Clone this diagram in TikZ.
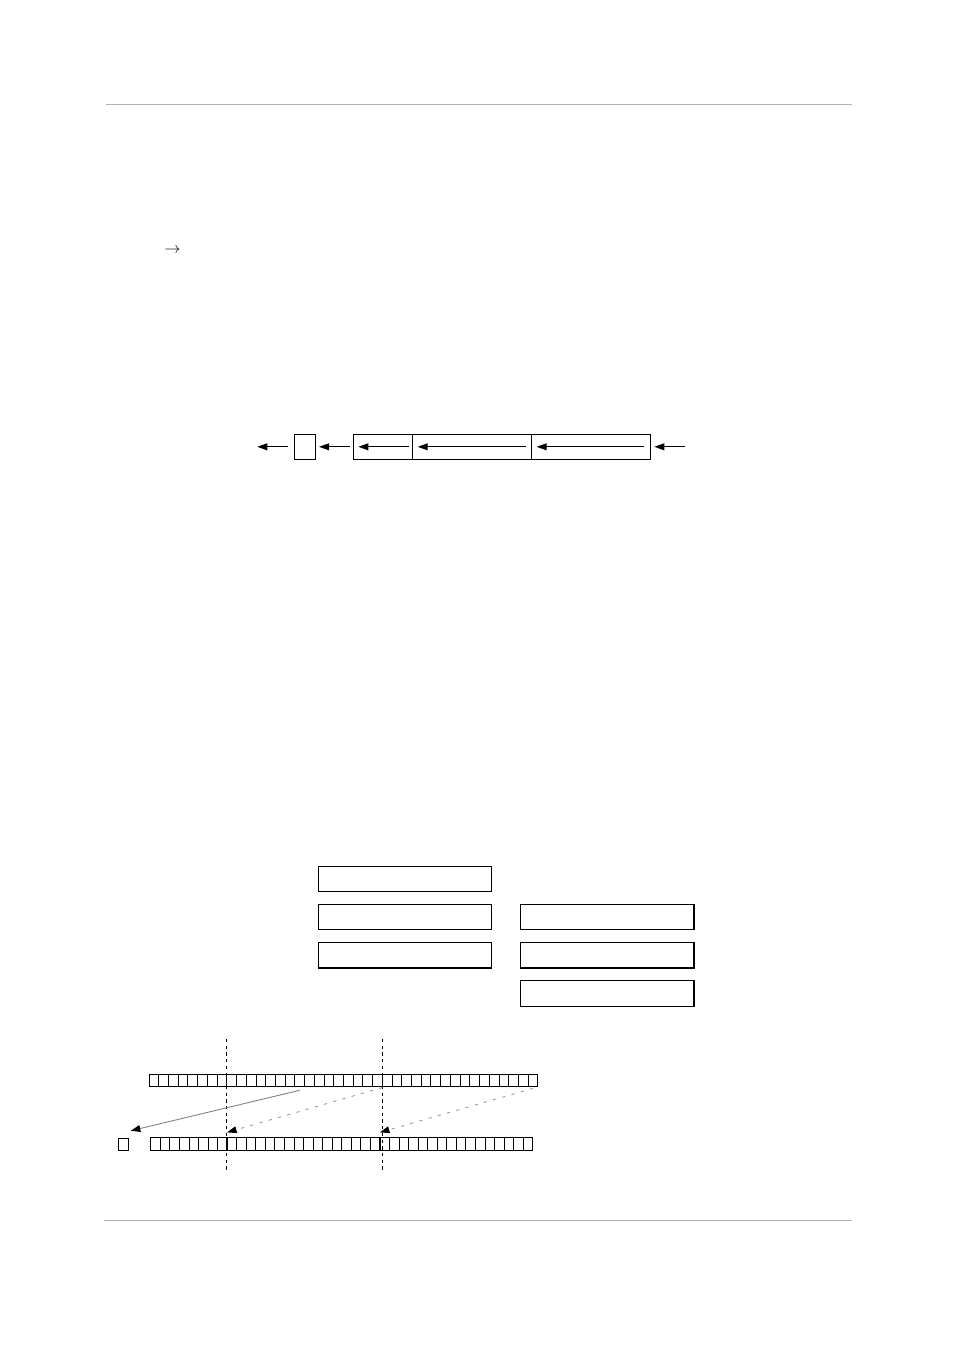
\documentclass[tikz,border=0pt]{standalone}
\usetikzlibrary{positioning, arrows.meta}

\begin{document}
\begin{tikzpicture}[
    x=0.22013mm, y=-0.22013mm,
    % Node styles
    box/.style={
        rectangle,
        draw,
        line width=0.7pt,
        inner sep=0pt,
        outer sep=0pt,
        minimum width=#1,
        minimum height=5.6mm
    },
    box/.default=38.2mm,
    cell/.style={
        rectangle,
        draw,
        line width=0.5pt,
        inner sep=0pt,
        outer sep=0pt,
        minimum width=#1,
        minimum height=2.64mm
    },
    cell/.default=2.14mm,
    arrow/.style={
        -{Triangle[length=2.2mm, width=1.5mm]},
        line width=0.7pt
    },
    copyarrow/.style={
        -{Triangle[length=2.1mm, width=1.5mm, color=black]},
        line width=0.55pt,
        draw=gray
    },
    copydash/.style={
        copyarrow,
        draw=gray!80,
        dash pattern=on 2pt off 4pt
    },
    cut/.style={
        line width=0.6pt,
        dash pattern=on 2pt off 2.2pt
    },
    rule/.style={
        draw=black!30,
        line width=0.6pt
    }
]

\useasboundingbox (0,0) rectangle (954,1351);

% Page rules
\draw[rule] (106,104.5) -- (852,104.5);
\draw[rule] (104,1220.3) -- (852,1220.3);

% Arrow symbol
\node[inner sep=0pt] (sym) at (172.5,251) {$\rightarrow$};

% Pipeline
\node[box=4.71mm, minimum height=5.5mm] (buf) at (305,446.8) {};
\node[box=12.99mm, minimum height=5.5mm] (seg1) at (382.8,446.8) {};
\node[box=26.28mm, minimum height=5.5mm, right=0pt of seg1] (seg2) {};
\node[box=26.11mm, minimum height=5.5mm, right=0pt of seg2] (seg3) {};
\coordinate (in) at (685,446.8);
\coordinate (out) at (257.3,446.8);

\draw[arrow] (in) -- ([xshift=0.88mm]seg3.east);
\draw[arrow] ([xshift=-1.39mm]seg3.east) -- ([xshift=1.1mm]seg3.west);
\draw[arrow] ([xshift=-1.32mm]seg2.east) -- ([xshift=1.19mm]seg2.west);
\draw[arrow] ([xshift=-0.73mm]seg1.east) -- ([xshift=1.1mm]seg1.west);
\draw[arrow] ([xshift=-0.73mm]seg1.west) -- ([xshift=0.73mm]buf.east);
\draw[arrow] ([xshift=-1.45mm]buf.west) -- (out);

% Boxes, two columns
\node[box] (l1) at (405,879) {};
\node[box, below=2.8mm of l1] (l2) {};
\node[box, below=2.8mm of l2] (l3) {};
\node[box, right=6.3mm of l2] (r1) {};
\node[box, below=2.8mm of r1] (r2) {};
\node[box, below=2.8mm of r2] (r3) {};

% Cell rows
\foreach \i in {0,...,39} {
    \node[cell] (t\i) at ({149+9.72*(\i+0.5)},1080.2) {};
}
\foreach \i in {0,...,39} {
    \node[cell=2.102mm, minimum height=2.8mm] (b\i) at ({150.7+9.55*(\i+0.5)},1143.7) {};
}
\node[cell=2.2mm] (sq) at (123.3,1144) {};

% Block boundaries
\draw[line width=1.3pt] (b7.north east) -- (b7.south east);
\draw[line width=1.3pt] (b23.north east) -- (b23.south east);
\draw[cut] ([yshift=7.75mm]t7.north east) -- ([yshift=-21.5mm]t7.north east);
\draw[cut] ([yshift=7.75mm]t23.north east) -- ([yshift=-21.5mm]t23.north east);

% Moves
\draw[copyarrow] ([yshift=-0.9mm]t15.south) -- ([shift={(0.55mm,1.6mm)}]sq.north east);
\draw[copydash] ([yshift=-0.3mm]t23.south east) -- ([yshift=1.1mm]b7.north east);
\draw[copydash] ([yshift=-0.5mm]t39.south) -- ([yshift=1.1mm]b23.north east);

\end{tikzpicture}
\end{document}
